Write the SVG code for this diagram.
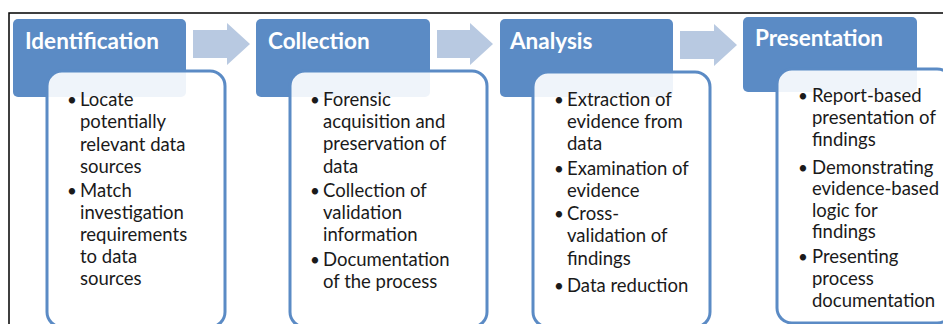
<svg xmlns="http://www.w3.org/2000/svg" width="943" height="324" viewBox="0 0 943 324">
<style>
.frame{fill:none;stroke:#000;stroke-width:1.5}
.hdr{fill:#5b8bc5}
.body{fill:#fff;fill-opacity:0.9;stroke:#5b8bc5;stroke-width:3}
.arr{fill:#b8c9e1}
.ttl{font-family:Lato,"Liberation Sans",sans-serif;font-weight:bold;font-size:22.5px;fill:#fff}
.txt{font-family:Lato,"Liberation Sans",sans-serif;font-size:18.5px;fill:#1a1a1a}
.bul{font-family:Lato,"Liberation Sans",sans-serif;font-size:17px;fill:#1a1a1a}
</style>
<rect x="0" y="0" width="943" height="324" fill="#fff"/>
<rect class="frame" x="9" y="13" width="945" height="330"/>
<g id="connectors">
<polygon class="arr" points="193,30 227,30 227,23 250,44 227,65 227,58 193,58"/>
<polygon class="arr" points="437,30 470,30 470,23 493,44 470,65 470,58 437,58"/>
<polygon class="arr" points="680,31 714,31 714,24 737,45 714,66 714,59 680,59"/>
</g>
<g id="identification">
<rect class="hdr" x="13" y="19" width="173" height="78" rx="5"/>
<text class="ttl" x="25" y="49">Identification</text>
<rect class="body" x="47" y="71" width="178" height="256" rx="15"/>
<text class="bul" x="67" y="106">•</text>
<text class="txt" x="80" y="106">Locate<tspan x="80" y="128">potentially</tspan><tspan x="80" y="151">relevant data</tspan><tspan x="80" y="173">sources</tspan></text>
<text class="bul" x="67" y="197">•</text>
<text class="txt" x="80" y="197">Match<tspan x="80" y="219">investigation</tspan><tspan x="80" y="241">requirements</tspan><tspan x="80" y="263">to data</tspan><tspan x="80" y="285">sources</tspan></text>
</g>
<g id="collection">
<rect class="hdr" x="256" y="19" width="174" height="78" rx="5"/>
<text class="ttl" x="268" y="49">Collection</text>
<rect class="body" x="290" y="71" width="197" height="256" rx="15"/>
<text class="bul" x="310" y="106">•</text>
<text class="txt" x="323" y="106">Forensic<tspan x="323" y="128">acquisition and</tspan><tspan x="323" y="150">preservation of</tspan><tspan x="323" y="173">data</tspan></text>
<text class="bul" x="310" y="197">•</text>
<text class="txt" x="323" y="197">Collection of<tspan x="323" y="219">validation</tspan><tspan x="323" y="241">information</tspan></text>
<text class="bul" x="310" y="266">•</text>
<text class="txt" x="323" y="266">Documentation<tspan x="323" y="288">of the process</tspan></text>
</g>
<g id="analysis">
<rect class="hdr" x="500" y="19" width="173" height="78" rx="5"/>
<text class="ttl" x="510" y="49">Analysis</text>
<rect class="body" x="533" y="72" width="177" height="255" rx="15"/>
<text class="bul" x="554" y="106">•</text>
<text class="txt" x="567" y="106">Extraction of<tspan x="567" y="128">evidence from</tspan><tspan x="567" y="150">data</tspan></text>
<text class="bul" x="554" y="175">•</text>
<text class="txt" x="567" y="175">Examination of<tspan x="567" y="197">evidence</tspan></text>
<text class="bul" x="554" y="220">•</text>
<text class="txt" x="567" y="220">Cross-<tspan x="567" y="242">validation of</tspan><tspan x="567" y="265">findings</tspan></text>
<text class="bul" x="554" y="292">•</text>
<text class="txt" x="567" y="292">Data reduction</text>
</g>
<g id="presentation">
<rect class="hdr" x="743" y="17" width="174" height="75" rx="5"/>
<text class="ttl" x="755" y="46">Presentation</text>
<rect class="body" x="777" y="69" width="175" height="254" rx="15"/>
<text class="bul" x="798" y="102">•</text>
<text class="txt" x="812" y="102">Report-based<tspan x="812" y="124">presentation of</tspan><tspan x="812" y="146">findings</tspan></text>
<text class="bul" x="798" y="174">•</text>
<text class="txt" x="812" y="174">Demonstrating<tspan x="812" y="195">evidence-based</tspan><tspan x="812" y="217">logic for</tspan><tspan x="812" y="238">findings</tspan></text>
<text class="bul" x="798" y="263">•</text>
<text class="txt" x="812" y="263">Presenting<tspan x="812" y="285">process</tspan><tspan x="812" y="307">documentation</tspan></text>
</g>
</svg>
